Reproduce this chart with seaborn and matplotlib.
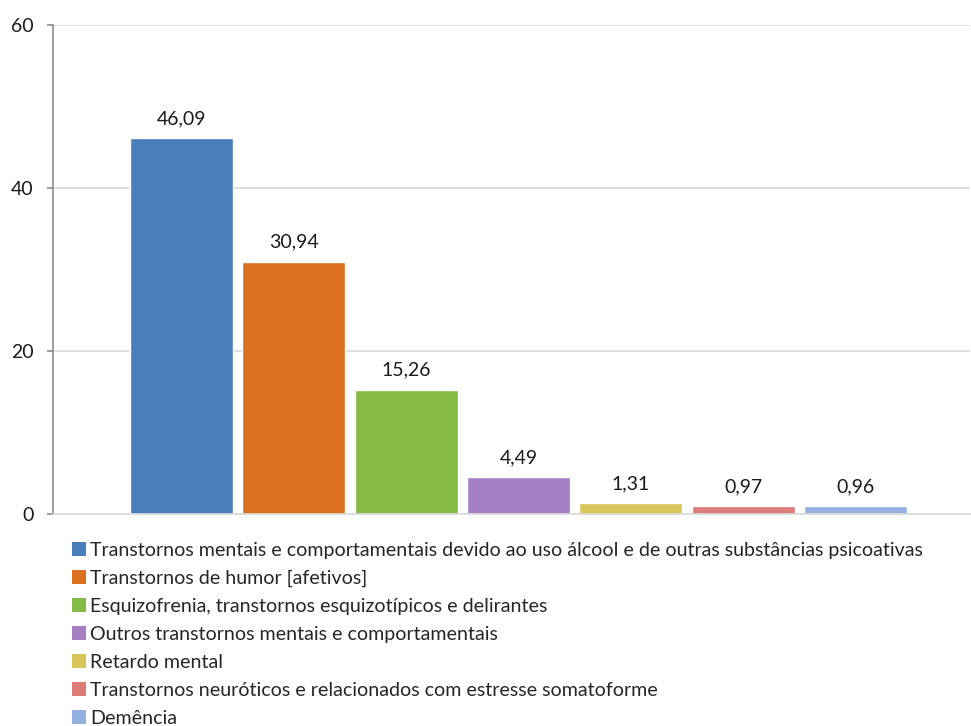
import matplotlib
matplotlib.use("Agg")
import matplotlib.pyplot as plt
import seaborn as sns
import pandas as pd
from matplotlib.patches import Patch

categories = [
    "Transtornos mentais e comportamentais devido ao uso álcool e de outras substâncias psicoativas",
    "Transtornos de humor [afetivos]",
    "Esquizofrenia, transtornos esquizotípicos e delirantes",
    "Outros transtornos mentais e comportamentais",
    "Retardo mental",
    "Transtornos neuróticos e relacionados com estresse somatoforme",
    "Demência",
]
values = [46.09, 30.94, 15.26, 4.49, 1.31, 0.97, 0.96]
value_labels = ["46,09", "30,94", "15,26", "4,49", "1,31", "0,97", "0,96"]
colors = ["#4a7ebb", "#db7120", "#84bb46", "#a67ec4", "#d9c65a", "#dc7b78", "#93b0e0"]
yticks = [0, 20, 40, 60]

sns.set_theme(style="white")
plt.rcParams["font.family"] = ["Lato", "DejaVu Sans"]

df = pd.DataFrame({"cat": categories, "val": values})

fig = plt.figure(figsize=(9.71, 7.26), dpi=100)
ax = fig.add_axes([53 / 971, 1 - 514 / 726, (970 - 53) / 971, (514 - 25) / 726])

sns.barplot(data=df, x="cat", y="val", hue="cat", palette=colors, dodge=False,
            width=0.917, legend=False, ax=ax, saturation=1)

for c, lab in zip(ax.containers, value_labels):
    ax.bar_label(c, labels=[lab], padding=8, fontsize=14, color="#1a1a1a")

ax.set_xlim(-1.144, 7.02)
ax.set_ylim(0, 60)
ax.set_yticks(yticks)
ax.set_yticklabels([str(t) for t in yticks], fontsize=14, color="#1a1a1a")
ax.set_xticks([])
ax.set_xlabel("")
ax.set_ylabel("")
ax.yaxis.grid(True, color="#d9d9d9", linewidth=1.2)
ax.set_axisbelow(True)
for s in ["top", "right"]:
    ax.spines[s].set_visible(False)
ax.spines["left"].set_color("#8c8c8c")
ax.spines["left"].set_linewidth(1.2)
ax.spines["bottom"].set_color("#d9d9d9")
ax.spines["bottom"].set_linewidth(1.2)
ax.tick_params(axis="y", which="major", left=True, length=4, width=1.2,
               color="#8c8c8c", pad=10)

handles = [Patch(facecolor=c, edgecolor="none") for c in colors]
fig.legend(handles, categories, loc="upper left", bbox_to_anchor=(72 / 971, 1 - 542 / 726),
           frameon=False, fontsize=14.1, handlelength=0.72, handleheight=0.72,
           handletextpad=0.22, labelspacing=0.56, borderpad=0, borderaxespad=0)

fig.savefig("out.png", dpi=100, facecolor="white")
